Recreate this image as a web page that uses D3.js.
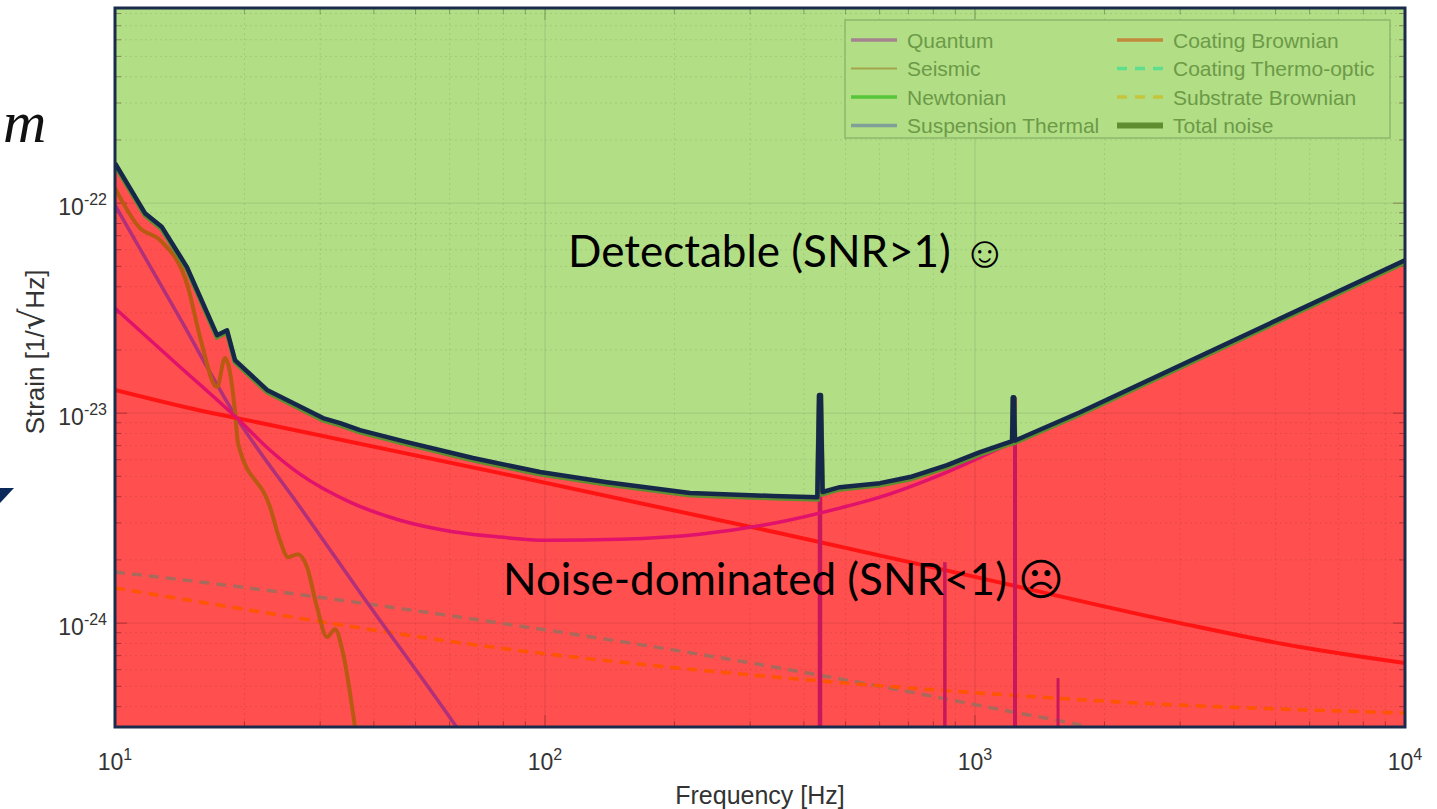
<!DOCTYPE html>
<html>
<head>
<meta charset="utf-8">
<script src="https://cdn.jsdelivr.net/npm/d3@7"></script>
<style>
body { margin: 0; background: #fff; }
svg { display: block; }
</style>
</head>
<body>
<div id="chart"></div>
<script>
// values: [frequency (Hz), strain (1/sqrt Hz)]
var totalNoise = [[10, 1.55e-22], [11.74, 8.96e-23], [12.86, 7.69e-23], [14.7, 4.96e-23], [17.27, 2.35e-23],
    [18.22, 2.48e-23], [19.01, 1.79e-23], [22.57, 1.29e-23], [30.46, 9.47e-24], [33.4, 8.96e-24], [37.14, 8.3e-24],
    [47.77, 7.28e-24], [68, 6.11e-24], [97.4, 5.24e-24], [139.4, 4.69e-24], [217.4, 4.16e-24], [339, 4.03e-24],
    [430, 3.98e-24], [434, 1.22e-23], [438, 1.22e-23], [442, 4.21e-24], [485, 4.44e-24], [601, 4.64e-24],
    [706, 4.96e-24], [861, 5.65e-24], [1027, 6.52e-24], [1220, 7.36e-24], [1225, 1.19e-23], [1232, 1.19e-23],
    [1238, 7.4e-24], [1755, 1.01e-23], [10000, 5.35e-23]];
var quantum = [[10, 3.16e-23], [13.94, 1.71e-23], [19.21, 9.47e-24], [22.94, 6.66e-24], [26.93, 5.12e-24],
    [35.2, 3.77e-24], [46, 3.09e-24], [60.1, 2.74e-24], [78.6, 2.57e-24], [100, 2.48e-24], [150, 2.51e-24],
    [229, 2.65e-24], [352, 3.03e-24], [485, 3.53e-24], [601, 3.98e-24], [861, 5.24e-24], [1226, 7.28e-24],
    [1755, 1.0e-23], [10000, 5.35e-23]];
var redNoise = [[10, 1.29e-23], [15.77, 1.03e-23], [19.21, 9.47e-24], [78.6, 5.18e-24], [352, 2.68e-24],
    [1000, 1.66e-24], [3000, 1.0e-24], [5700, 7.69e-25], [10000, 6.45e-25]];
var purpleNoise = [[10, 9.78e-23], [13.94, 2.99e-23], [19.21, 9.47e-24], [26.93, 3.57e-24], [37.14, 1.4e-24],
    [61.8, 3.27e-25], [70.6, 2.2e-25]];
var brownNoise = [[10, 1.18e-22], [11.43, 7.6e-23], [12.73, 6.66e-23], [14.78, 3.98e-23], [15.77, 2.3e-23],
    [17.27, 1.33e-23], [18.02, 1.83e-23], [19.01, 1.03e-23], [19.32, 7.2e-24], [22.94, 3.57e-24], [24.19, 2.48e-24],
    [25.26, 2.06e-24], [26.65, 2.13e-24], [27.96, 1.85e-24], [29.5, 1.19e-24], [31.12, 8.58e-25], [32.48, 9.36e-25],
    [33.9, 7.2e-25], [36.1, 3.27e-25], [37.1, 2.2e-25]];
var grayDashed = [[10, 1.75e-24], [15.77, 1.57e-24], [78.6, 1.0e-24], [352, 6.11e-25], [634, 4.9e-25],
    [1226, 3.77e-25], [1755, 3.27e-25], [2174, 2.93e-25]];
var orangeDashed = [[10, 1.47e-24], [15.77, 1.26e-24], [78.6, 7.6e-25], [365, 5.47e-25], [1206, 4.54e-25],
    [2174, 4.21e-25], [10000, 3.73e-25]];
var violinF = [436, 851, 1239, 1560];
var violinTop = [1.22e-23, 1.95e-24, 1.19e-23, 5.47e-25];

var legendLabels = ["Quantum", "Seismic", "Newtonian", "Suspension Thermal",
    "Coating Brownian", "Coating Thermo-optic", "Substrate Brownian", "Total noise"];
var xTickExp = [1, 2, 3, 4];
var yTickExp = [-24, -23, -22];

// styles
var legendColors = ["#a5828f", "#a3a54c", "#57c63a", "#7f9f98", "#c28a3a", "#5ddf8d", "#c6c63c", "#5f8d30"];
var legendWidths = [3.5, 2, 3.5, 3.5, 3.5, 3.5, 3.5, 6];
var legendDash = [null, null, null, null, null, "10,8", "10,8", null];

var margin = {top: 8, right: 32, bottom: 82, left: 115},
    width = 1437 - margin.left - margin.right,
    height = 809 - margin.top - margin.bottom;

var svg = d3.select("#chart")
    .append("svg")
    .attr("width", 1437)
    .attr("height", 809)
    .style("font-family", "'Liberation Sans', Arial, sans-serif");

// slide leftovers
svg.append("text")
    .attr("x", 3).attr("y", 142)
    .attr("font-family", "'Liberation Serif', serif")
    .attr("font-style", "italic")
    .attr("font-size", 60)
    .attr("fill", "#111")
    .text("m");
svg.append("path")
    .attr("d", "M0,488L14,488L0,503Z")
    .attr("fill", "#0b2a5b");

var g = svg.append("g")
    .attr("transform", "translate(" + margin.left + "," + margin.top + ")");

var x = d3.scaleLog().domain([10, 10000]).range([0, width]);
var y = d3.scaleLog().domain([3.2e-25, 8.5e-22]).range([height, 0]);

g.append("clipPath").attr("id", "clip")
    .append("rect").attr("width", width).attr("height", height);

var plot = g.append("g").attr("clip-path", "url(#clip)");

// detectable / noise-dominated fills
plot.append("rect")
    .attr("width", width).attr("height", height)
    .attr("fill", "#b2de86");
plot.append("path")
    .datum(totalNoise)
    .attr("fill", "#ff4f4f")
    .attr("d", d3.area()
        .x(function(d) { return x(d[0]); })
        .y0(height)
        .y1(function(d) { return y(d[1]); }));

// grid
var xMinor = [], yMinor = [];
[10, 100, 1000].forEach(function(dec) {
    for (var k = 2; k < 10; k++) xMinor.push(dec * k);
});
[1e-25, 1e-24, 1e-23, 1e-22].forEach(function(dec) {
    for (var k = 2; k < 10; k++) yMinor.push(dec * k);
});
var xMajor = xTickExp.map(function(e) { return Math.pow(10, e); });
var yMajor = yTickExp.map(function(e) { return Math.pow(10, e); });

plot.selectAll(".gx").data(xMinor).enter().append("line")
    .attr("x1", function(d) { return x(d); }).attr("x2", function(d) { return x(d); })
    .attr("y1", 0).attr("y2", height)
    .attr("stroke", "rgba(0,0,0,0.09)").attr("stroke-dasharray", "2,3");
plot.selectAll(".gy").data(yMinor).enter().append("line")
    .attr("y1", function(d) { return y(d); }).attr("y2", function(d) { return y(d); })
    .attr("x1", 0).attr("x2", width)
    .attr("stroke", "rgba(0,0,0,0.09)").attr("stroke-dasharray", "2,3");
plot.selectAll(".gX").data(xMajor).enter().append("line")
    .attr("x1", function(d) { return x(d); }).attr("x2", function(d) { return x(d); })
    .attr("y1", 0).attr("y2", height)
    .attr("stroke", "rgba(0,0,0,0.1)");
plot.selectAll(".gY").data(yMajor).enter().append("line")
    .attr("y1", function(d) { return y(d); }).attr("y2", function(d) { return y(d); })
    .attr("x1", 0).attr("x2", width)
    .attr("stroke", "rgba(0,0,0,0.1)");

// inner ticks on all four sides
function tickLines(vals, len) {
    vals.forEach(function(v) {
        var xv = x(v);
        plot.append("line").attr("x1", xv).attr("x2", xv).attr("y1", height).attr("y2", height - len)
            .attr("stroke", "rgba(60,0,0,0.35)");
        plot.append("line").attr("x1", xv).attr("x2", xv).attr("y1", 0).attr("y2", len)
            .attr("stroke", "rgba(0,40,0,0.3)");
    });
}
function tickLinesY(vals, len) {
    vals.forEach(function(v) {
        var yv = y(v);
        if (yv < 0 || yv > height) return;
        plot.append("line").attr("x1", 0).attr("x2", len).attr("y1", yv).attr("y2", yv)
            .attr("stroke", "rgba(60,0,0,0.35)");
        plot.append("line").attr("x1", width).attr("x2", width - len).attr("y1", yv).attr("y2", yv)
            .attr("stroke", "rgba(60,0,0,0.35)");
    });
}
tickLines(xMinor, 6);
tickLines(xMajor, 12);
tickLinesY(yMinor, 6);
tickLinesY(yMajor, 12);

var line = d3.line()
    .x(function(d) { return x(d[0]); })
    .y(function(d) { return y(d[1]); })
    .curve(d3.curveMonotoneX);

function drawCurve(data, color, w, dash) {
    plot.append("path")
        .datum(data)
        .attr("fill", "none")
        .attr("stroke", color)
        .attr("stroke-width", w)
        .attr("stroke-dasharray", dash)
        .attr("d", line);
}

drawCurve(grayDashed, "#a96a5c", 3.5, "10,7");
drawCurve(orangeDashed, "#ff5500", 3.5, "10,7");
drawCurve(purpleNoise, "#b0307a", 3.5, null);
drawCurve(brownNoise, "#b85a12", 4, null);
drawCurve(redNoise, "#ff1414", 4, null);

// violin-mode spikes
var violinW = [4.5, 3.5, 4, 3];
violinF.forEach(function(f, i) {
    plot.append("line")
        .attr("x1", x(f)).attr("x2", x(f))
        .attr("y1", height).attr("y2", y(violinTop[i]))
        .attr("stroke", "#c8185c")
        .attr("stroke-width", violinW[i]);
});

drawCurve(quantum, "#e0126b", 3.5, null);

// total noise: green line with the navy outline over it
var straight = d3.line()
    .x(function(d) { return x(d[0]); })
    .y(function(d) { return y(d[1]); });
plot.append("path")
    .datum(totalNoise)
    .attr("fill", "none")
    .attr("stroke", "#5f8d30")
    .attr("stroke-width", 5)
    .attr("transform", "translate(0,2)")
    .attr("d", straight);
plot.append("path")
    .datum(totalNoise)
    .attr("fill", "none")
    .attr("stroke", "#15284a")
    .attr("stroke-width", 4.5)
    .attr("stroke-linejoin", "round")
    .attr("d", straight);

// legend
var lg = g.append("g").attr("transform", "translate(" + (845 - margin.left) + "," + (20 - margin.top) + ")");
lg.append("rect")
    .attr("width", 545).attr("height", 118)
    .attr("fill", "#b2de86")
    .attr("stroke", "#8db86a")
    .attr("stroke-width", 1.5);
legendLabels.forEach(function(lab, i) {
    var col = Math.floor(i / 4), row = i % 4;
    var lx = 6 + col * 266, ly = 20 + row * 28.5;
    lg.append("line")
        .attr("x1", lx).attr("x2", lx + 46)
        .attr("y1", ly).attr("y2", ly)
        .attr("stroke", legendColors[i])
        .attr("stroke-width", legendWidths[i])
        .attr("stroke-dasharray", legendDash[i]);
    lg.append("text")
        .attr("x", lx + 56).attr("y", ly + 7.5)
        .attr("font-size", 21)
        .attr("fill", "#6c9a47")
        .text(lab);
});

// frame
g.append("rect")
    .attr("width", width).attr("height", height)
    .attr("fill", "none")
    .attr("stroke", "#1a2b4c")
    .attr("stroke-width", 3);

// tick labels
xTickExp.forEach(function(e) {
    var t = svg.append("text")
        .attr("x", margin.left + x(Math.pow(10, e)))
        .attr("y", 770)
        .attr("text-anchor", "middle")
        .attr("fill", "#333")
        .attr("font-size", 23);
    t.append("tspan").text("10");
    t.append("tspan").attr("dy", -10).attr("font-size", 16).text(e);
});
yTickExp.forEach(function(e) {
    var t = svg.append("text")
        .attr("x", 107)
        .attr("y", margin.top + y(Math.pow(10, e)) + 12)
        .attr("text-anchor", "end")
        .attr("fill", "#333")
        .attr("font-size", 23);
    t.append("tspan").text("10");
    t.append("tspan").attr("dy", -10).attr("font-size", 16).text(e);
});

// axis labels
svg.append("text")
    .attr("x", 760).attr("y", 804)
    .attr("text-anchor", "middle")
    .attr("fill", "#333")
    .attr("font-size", 25)
    .text("Frequency [Hz]");
var yl = svg.append("text")
    .attr("transform", "translate(44,352)rotate(-90)")
    .attr("text-anchor", "middle")
    .attr("fill", "#333")
    .attr("font-size", 26);
yl.append("tspan").text("Strain [1/");
yl.append("tspan").attr("font-size", 34).attr("font-family", "'DejaVu Sans', sans-serif").text("\u221A");
yl.append("tspan").text("Hz]");

// annotations
svg.append("text")
    .attr("x", 568).attr("y", 267)
    .attr("font-family", "Lato, 'Open Sans', sans-serif")
    .attr("font-size", 44)
    .attr("fill", "#000")
    .text("Detectable (SNR>1) \u263A");
svg.append("text")
    .attr("x", 503).attr("y", 595)
    .attr("font-family", "Lato, 'Open Sans', sans-serif")
    .attr("font-size", 44)
    .attr("fill", "#000")
    .text("Noise-dominated (SNR<1) \u2639");
</script>
</body>
</html>
